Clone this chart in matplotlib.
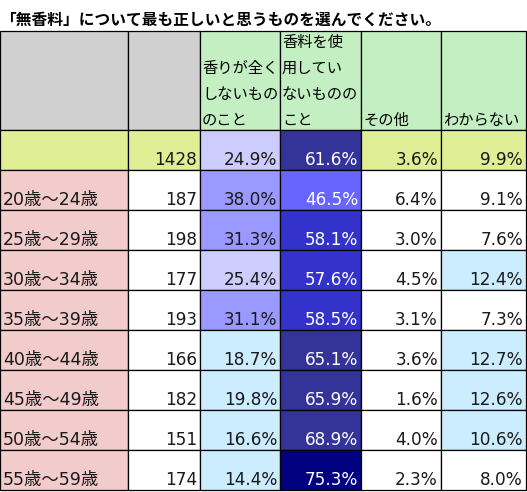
import matplotlib.pyplot as plt
from matplotlib.patches import Rectangle

title = "「無香料」について最も正しいと思うものを選んでください。"
headers = ["", "", "香りが全く\nしないもの\nのこと", "香料を使\n用してい\nないものの\nこと", "その他", "わからない"]
total_n = 1428
total_vals = [24.9, 61.6, 3.6, 9.9]
groups = ["20歳～24歳", "25歳～29歳", "30歳～34歳", "35歳～39歳",
          "40歳～44歳", "45歳～49歳", "50歳～54歳", "55歳～59歳"]
counts = [187, 198, 177, 193, 166, 182, 151, 174]
scent_none = [38.0, 31.3, 25.4, 31.1, 18.7, 19.8, 16.6, 14.4]
no_additive = [46.5, 58.1, 57.6, 58.5, 65.1, 65.9, 68.9, 75.3]
other = [6.4, 3.0, 4.5, 3.1, 3.6, 1.6, 4.0, 2.3]
unknown = [9.1, 7.6, 12.4, 7.3, 12.7, 12.6, 10.6, 8.0]

# layout in pixels
col_edges = [0, 128, 200, 280, 361, 441, 526]
header_top, header_bot, row_h = 31, 130, 40

# colour bins (every 10%)
bins = [(10, None), (20, "#CCECFF"), (30, "#CCCCFF"), (40, "#9999FF"),
        (50, "#6666FF"), (60, "#3333CC"), (70, "#333399"), (1000, "#000080")]

def bin_color(v):
    for lim, c in bins:
        if v < lim:
            return c
    return "#000080"

def text_color(v):
    return "white" if v >= 40 else "#1a1a1a"

gray, green, yellow, pink = "#D0D0D0", "#C3EFC3", "#E0EE95", "#F2CBCB"
fam = ["DejaVu Sans", "Noto Sans CJK JP"]
num_fs = 12.2

fig = plt.figure(figsize=(5.27, 4.92), dpi=100)
ax = fig.add_axes([0, 0, 1, 1])
ax.set_xlim(0, 527)
ax.set_ylim(492, 0)
ax.axis("off")

def cell(x0, x1, y0, y1, fc):
    ax.add_patch(Rectangle((x0, y0), x1 - x0, y1 - y0, facecolor=fc,
                           edgecolor="black", linewidth=0.9))

ax.text(1, 25, title, fontsize=11.3, fontweight="bold",
        family=["Noto Sans CJK JP"], va="baseline", ha="left")

# header
for j in range(6):
    fc = gray if j < 2 else green
    cell(col_edges[j], col_edges[j + 1], header_top, header_bot, fc)
    if headers[j]:
        ax.text(col_edges[j] + 2, header_bot - 1, headers[j], fontsize=11,
                family=["Noto Sans CJK JP"], ha="left", va="bottom",
                linespacing=1.7)

# total row
y0, y1 = header_bot, header_bot + row_h
cell(col_edges[0], col_edges[1], y0, y1, yellow)
cell(col_edges[1], col_edges[2], y0, y1, yellow)
ax.text(col_edges[2] - 3, y1 - 5, str(total_n), fontsize=num_fs, family=fam,
        ha="right", va="baseline", color="#1a1a1a")
for k, v in enumerate(total_vals):
    c = bin_color(v) if k < 2 else None
    cell(col_edges[k + 2], col_edges[k + 3], y0, y1, c or yellow)
    ax.text(col_edges[k + 3] - 3, y1 - 5, f"{v:.1f}%", fontsize=num_fs,
            family=fam, ha="right", va="baseline", color=text_color(v))

# group rows
for i, g in enumerate(groups):
    y0 = header_bot + row_h * (i + 1)
    y1 = y0 + row_h
    cell(col_edges[0], col_edges[1], y0, y1, pink)
    ax.text(3, y1 - 5, g, fontsize=12.5, family=fam, ha="left",
            va="baseline", color="#1a1a1a")
    cell(col_edges[1], col_edges[2], y0, y1, "white")
    ax.text(col_edges[2] - 3, y1 - 5, str(counts[i]), fontsize=num_fs,
            family=fam, ha="right", va="baseline", color="#1a1a1a")
    row = [scent_none[i], no_additive[i], other[i], unknown[i]]
    for k, v in enumerate(row):
        cell(col_edges[k + 2], col_edges[k + 3], y0, y1, bin_color(v) or "white")
        ax.text(col_edges[k + 3] - 3, y1 - 5, f"{v:.1f}%", fontsize=num_fs,
                family=fam, ha="right", va="baseline", color=text_color(v))

fig.savefig("out.png", dpi=100)
